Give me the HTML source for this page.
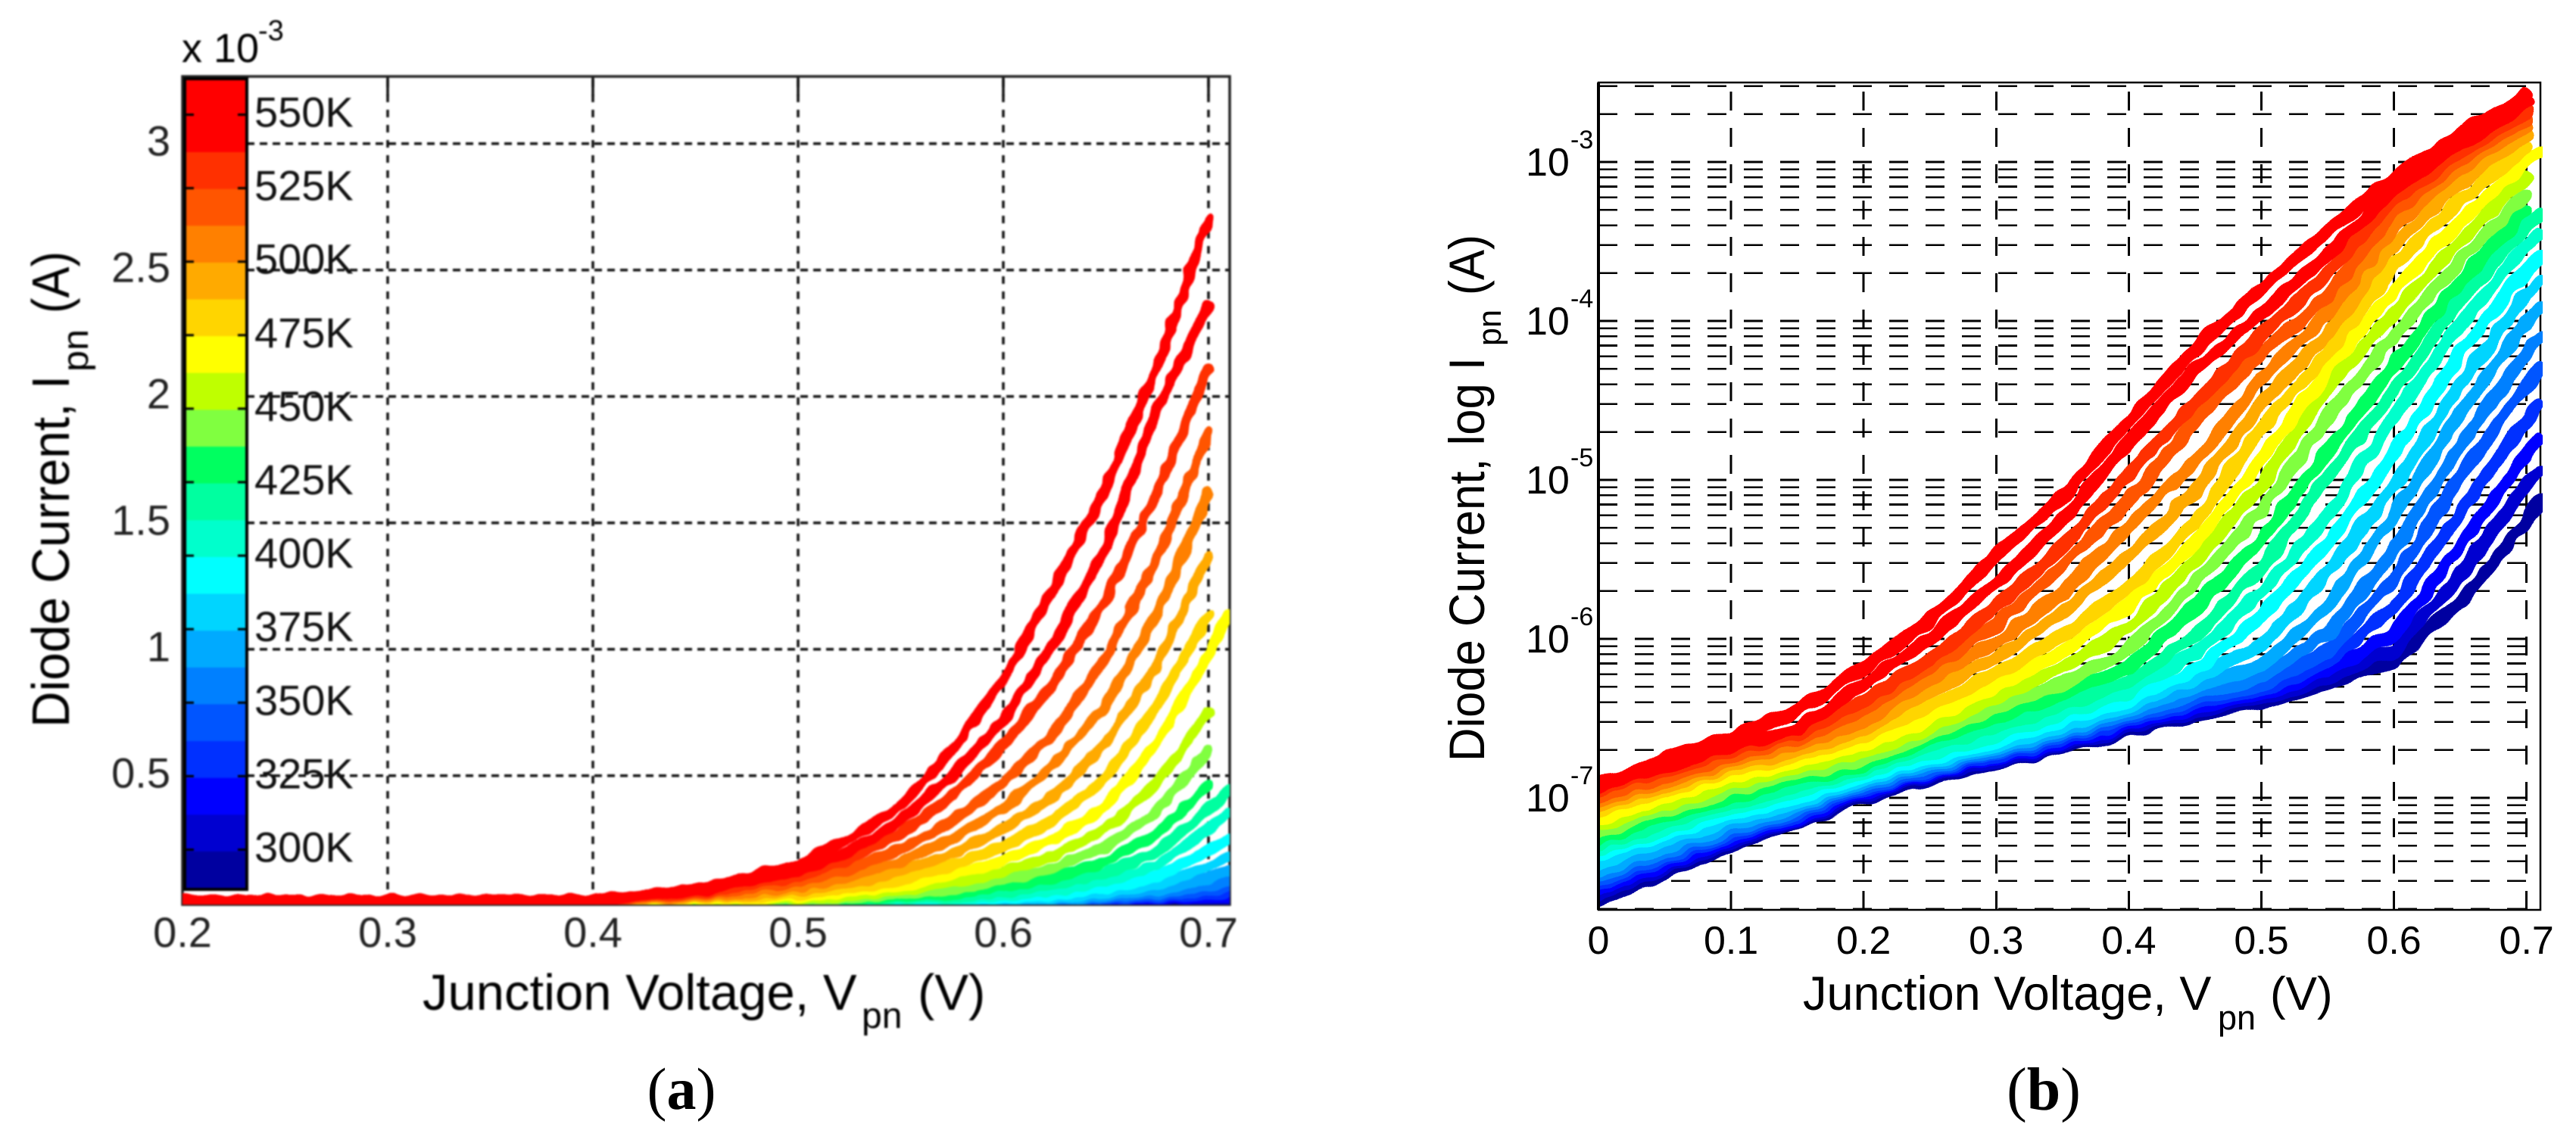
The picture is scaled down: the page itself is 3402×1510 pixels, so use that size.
<!DOCTYPE html>
<html lang="en">
<head>
<meta charset="utf-8">
<title>Diode current versus junction voltage</title>
<style>
html,body{margin:0;padding:0;background:#fff;}
svg{display:block;}
text{font-family:"Liberation Sans",Arial,sans-serif;fill:#000;}
.cap{font-family:"Liberation Serif","Times New Roman",serif;}
</style>
</head>
<body>
<svg id="figure" xmlns="http://www.w3.org/2000/svg" width="3402" height="1510" viewBox="0 0 3402 1510">
  <defs>
    <filter id="soft-a" filterUnits="userSpaceOnUse" x="0" y="0" width="1700" height="1510" color-interpolation-filters="sRGB">
      <feGaussianBlur stdDeviation="1.1"/>
    </filter>
    <filter id="rough-a" filterUnits="userSpaceOnUse" x="200" y="80" width="1460" height="1140" color-interpolation-filters="sRGB">
      <feTurbulence type="fractalNoise" baseFrequency="0.055" numOctaves="1" seed="4" result="n"/>
      <feDisplacementMap in="SourceGraphic" in2="n" scale="11" xChannelSelector="R" yChannelSelector="G"/>
    </filter>
    <filter id="rough-b" filterUnits="userSpaceOnUse" x="2080" y="90" width="1300" height="1140" color-interpolation-filters="sRGB">
      <feTurbulence type="fractalNoise" baseFrequency="0.04" numOctaves="1" seed="9" result="n"/>
      <feDisplacementMap in="SourceGraphic" in2="n" scale="14" xChannelSelector="R" yChannelSelector="G"/>
    </filter>
    <clipPath id="clip-a"><rect x="241" y="101" width="1383" height="1094"/></clipPath>
    <clipPath id="clip-b"><rect x="2113" y="109" width="1245" height="1093"/></clipPath>
  </defs>

  <g id="panel-a" filter="url(#soft-a)">
    <g id="grid-a"></g>
    <rect x="241" y="101" width="1383" height="1094" fill="none" stroke="#222" stroke-width="3.5"/>
    <g clip-path="url(#clip-a)"><g id="curves-a" filter="url(#rough-a)"></g></g>
    <g id="colorbar"></g>
    <g id="labels-a"></g>
    <text x="240" y="82" font-size="54" fill="#222">x 10</text>
    <text x="341" y="53" font-size="38" fill="#222">-3</text>
    <text x="558" y="1334" font-size="67" fill="#111">Junction Voltage, V</text>
    <text x="1138" y="1358" font-size="48" fill="#111">pn</text>
    <text x="1212" y="1334" font-size="67" fill="#111">(V)</text>
    <text transform="translate(91,961) rotate(-90)" font-size="70" textLength="465" lengthAdjust="spacingAndGlyphs" fill="#111">Diode Current, I</text>
    <text transform="translate(116,491) rotate(-90)" font-size="48" textLength="56" lengthAdjust="spacingAndGlyphs" fill="#111">pn</text>
    <text transform="translate(91,414) rotate(-90)" font-size="70" textLength="82" lengthAdjust="spacingAndGlyphs" fill="#111">(A)</text>
  </g>
  <text class="cap" x="900" y="1465" font-size="78" text-anchor="middle">(<tspan font-weight="bold">a</tspan>)</text>

  <g id="panel-b">
    <g id="grid-b" shape-rendering="crispEdges"></g>
    <rect x="2111" y="109" width="1244" height="1093" fill="none" stroke="#000" stroke-width="2.5"/>
    <line x1="2111" y1="109" x2="2111" y2="1202" stroke="#000" stroke-width="4"/>
    <g clip-path="url(#clip-b)"><g id="curves-b" filter="url(#rough-b)"></g></g>
    <g id="labels-b"></g>
    <text x="2381" y="1334" font-size="63">Junction Voltage, V</text>
    <text x="2929" y="1360" font-size="45">pn</text>
    <text x="2998" y="1334" font-size="62">(V)</text>
    <text transform="translate(1960,1006) rotate(-90)" font-size="66" textLength="534" lengthAdjust="spacingAndGlyphs">Diode Current, log I</text>
    <text transform="translate(1982,457) rotate(-90)" font-size="44" textLength="48" lengthAdjust="spacingAndGlyphs">pn</text>
    <text transform="translate(1960,390) rotate(-90)" font-size="66" textLength="80" lengthAdjust="spacingAndGlyphs">(A)</text>
  </g>
  <text class="cap" x="2699" y="1466" font-size="80" text-anchor="middle">(<tspan font-weight="bold">b</tspan>)</text>
</svg>

<script>
// ---- Shared palette, coolest curve first ----
const palette = ['#0000a0','#0000d0','#0000ff','#0030ff','#0055ff','#0080ff','#00aaff','#00d5ff','#00ffff','#00ffcc','#00ffa0','#00ff60','#80ff40','#bfff00','#ffff00','#ffd500','#ffaa00','#ff8000','#ff5500','#ff3000','#ff0000','#ff0000'];
const temperatureLabels = [550,525,500,475,450,425,400,375,350,325,300];

// ---- Panel (a): linear current in units of 1e-3 A ----
const voltagesA = [0.2,0.3,0.4,0.45,0.5,0.525,0.55,0.575,0.6,0.625,0.65,0.675,0.7,0.71];
const xTicksA = [0.2,0.3,0.4,0.5,0.6,0.7];
const yTicksA = [0.5,1,1.5,2,2.5,3];
const hotCurveA1 = [0.008,0.008,0.01,0.05,0.15,0.25,0.38,0.6,0.88,1.25,1.64,2.12,2.7];
const hotCurveA2 = [0,0,0.006,0.04,0.12,0.2,0.32,0.5,0.72,1.03,1.4,1.95,2.36];
const hotCurveA3 = [0,0,0.005,0.03,0.1,0.17,0.27,0.42,0.62,0.87,1.2,1.62,2.11];
const hotCurveA4 = [0,0,0.004,0.025,0.08,0.13,0.21,0.32,0.47,0.67,0.97,1.36,1.86];
const hotCurveA5 = [0,0,0.003,0.018,0.06,0.1,0.16,0.25,0.37,0.55,0.78,1.14,1.62];
const hotCurveA6 = [0,0,0.002,0.013,0.045,0.075,0.12,0.19,0.29,0.42,0.63,0.94,1.37];
const hotCurveA7 = [0,0,0.002,0.01,0.03,0.055,0.09,0.145,0.22,0.33,0.49,0.78,1.137];
const midCurveA8 = [0,0,0.001,0.006,0.02,0.04,0.065,0.105,0.165,0.25,0.38,0.63,0.98,1.14];
const midCurveA9 = [0,0,0.001,0.004,0.013,0.025,0.045,0.075,0.12,0.185,0.29,0.47,0.75];
const midCurveA10 = [0,0,0.001,0.003,0.008,0.016,0.03,0.05,0.085,0.135,0.22,0.36,0.6];
const midCurveA11 = [0,0,0,0.002,0.005,0.01,0.02,0.035,0.06,0.095,0.16,0.27,0.465];
const midCurveA12 = [0,0,0,0.001,0.003,0.006,0.013,0.023,0.04,0.068,0.115,0.2,0.365,0.445];
const midCurveA13 = [0,0,0,0.001,0.002,0.004,0.008,0.015,0.027,0.046,0.08,0.145,0.29,0.355];
const midCurveA14 = [0,0,0,0,0.001,0.002,0.005,0.009,0.017,0.03,0.055,0.1,0.205,0.25];
const coolCurveA15 = [0,0,0,0,0.0006,0.0012,0.003,0.006,0.011,0.02,0.036,0.068,0.14,0.18];
const coolCurveA16 = [0,0,0,0,0.0004,0.0008,0.002,0.004,0.007,0.013,0.024,0.045,0.095,0.125];
const coolCurveA17 = [0,0,0,0,0.0003,0.0006,0.0012,0.0025,0.005,0.009,0.016,0.03,0.065,0.085];
const coolCurveA18 = [0,0,0,0,0.0002,0.0004,0.0008,0.0016,0.0032,0.006,0.011,0.02,0.043,0.06];
const coolCurveA19 = [0,0,0,0,0.0001,0.0002,0.0005,0.001,0.002,0.004,0.007,0.013,0.028,0.04];
const coolCurveA20 = [0,0,0,0,0,0.0001,0.0003,0.0006,0.0012,0.0025,0.0045,0.008,0.018,0.026];
const coolCurveA21 = [0,0,0,0,0,0.0001,0.0002,0.0004,0.0008,0.0015,0.003,0.005,0.011,0.016];
const coolCurveA22 = [0,0,0,0,0,0,0.0001,0.0002,0.0005,0.001,0.002,0.003,0.007,0.01];
const seriesA = [coolCurveA22,coolCurveA21,coolCurveA20,coolCurveA19,coolCurveA18,coolCurveA17,coolCurveA16,coolCurveA15,midCurveA14,midCurveA13,midCurveA12,midCurveA11,midCurveA10,midCurveA9,midCurveA8,hotCurveA7,hotCurveA6,hotCurveA5,hotCurveA4,hotCurveA3,hotCurveA2,hotCurveA1];

// ---- Panel (b): log10 of current in A ----
const voltagesB = [0,0.05,0.1,0.15,0.2,0.25,0.3,0.35,0.4,0.45,0.5,0.55,0.6,0.65,0.7,0.71];
const xTicksB = [0,0.1,0.2,0.3,0.4,0.5,0.6,0.7];
const decadesB = [-3,-4,-5,-6,-7];
const logCurveB1 = [-6.91,-6.76,-6.62,-6.45,-6.18,-5.89,-5.47,-5.11,-4.63,-4.18,-3.79,-3.43,-3.1,-2.83,-2.58];
const logCurveB2 = [-6.93,-6.8,-6.67,-6.57,-6.28,-6,-5.65,-5.25,-4.76,-4.3,-3.96,-3.58,-3.17,-2.88,-2.63];
const logCurveB3 = [-6.95,-6.83,-6.7,-6.6,-6.39,-6.13,-5.8,-5.42,-4.96,-4.52,-4.09,-3.7,-3.24,-2.93,-2.69];
const logCurveB4 = [-6.99,-6.87,-6.74,-6.63,-6.45,-6.18,-5.91,-5.54,-5.13,-4.63,-4.2,-3.85,-3.3,-2.98,-2.73];
const logCurveB5 = [-7.02,-6.9,-6.77,-6.66,-6.52,-6.25,-6.02,-5.71,-5.29,-4.89,-4.36,-3.95,-3.4,-3.04,-2.77];
const logCurveB6 = [-7.05,-6.93,-6.8,-6.7,-6.57,-6.33,-6.12,-5.83,-5.48,-5.07,-4.52,-4.08,-3.52,-3.13,-2.83];
const logCurveB7 = [-7.08,-6.96,-6.83,-6.73,-6.62,-6.42,-6.22,-5.98,-5.68,-5.27,-4.67,-4.2,-3.65,-3.24,-2.91];
const logCurveB8 = [-7.13,-7,-6.87,-6.77,-6.67,-6.5,-6.3,-6.08,-5.78,-5.4,-4.87,-4.31,-3.8,-3.37,-3,-2.94];
const logCurveB9 = [-7.17,-7.04,-6.91,-6.81,-6.71,-6.56,-6.37,-6.18,-5.93,-5.51,-5.03,-4.42,-3.95,-3.49,-3.09];
const logCurveB10 = [-7.22,-7.08,-6.95,-6.85,-6.76,-6.6,-6.44,-6.28,-6.07,-5.65,-5.19,-4.6,-4.1,-3.62,-3.2];
const logCurveB11 = [-7.26,-7.12,-6.99,-6.89,-6.8,-6.64,-6.5,-6.35,-6.18,-5.8,-5.38,-4.82,-4.28,-3.75,-3.3];
const logCurveB12 = [-7.29,-7.16,-7.03,-6.93,-6.82,-6.68,-6.55,-6.42,-6.27,-5.98,-5.55,-4.98,-4.44,-3.87,-3.4,-3.33];
const logCurveB13 = [-7.32,-7.2,-7.07,-6.96,-6.84,-6.72,-6.6,-6.47,-6.33,-6.09,-5.71,-5.22,-4.6,-4.02,-3.52,-3.45];
const logCurveB14 = [-7.35,-7.23,-7.11,-7,-6.86,-6.75,-6.64,-6.51,-6.38,-6.2,-5.86,-5.4,-4.84,-4.2,-3.67,-3.6];
const logCurveB15 = [-7.41,-7.27,-7.14,-7.03,-6.88,-6.77,-6.67,-6.55,-6.42,-6.25,-6.04,-5.58,-5.04,-4.4,-3.82,-3.75];
const logCurveB16 = [-7.46,-7.31,-7.17,-7.05,-6.9,-6.79,-6.69,-6.58,-6.45,-6.3,-6.17,-5.8,-5.22,-4.58,-4,-3.92];
const logCurveB17 = [-7.49,-7.34,-7.2,-7.07,-6.92,-6.81,-6.71,-6.6,-6.48,-6.34,-6.24,-5.97,-5.44,-4.78,-4.2,-4.1];
const logCurveB18 = [-7.52,-7.37,-7.22,-7.09,-6.94,-6.83,-6.72,-6.62,-6.5,-6.38,-6.29,-6.08,-5.62,-4.98,-4.4,-4.3];
const logCurveB19 = [-7.55,-7.39,-7.24,-7.11,-6.955,-6.84,-6.74,-6.64,-6.52,-6.41,-6.32,-6.15,-5.8,-5.2,-4.62,-4.53];
const logCurveB20 = [-7.58,-7.42,-7.26,-7.13,-6.97,-6.85,-6.75,-6.66,-6.54,-6.44,-6.35,-6.2,-5.97,-5.42,-4.83,-4.74];
const logCurveB21 = [-7.61,-7.44,-7.28,-7.14,-6.985,-6.86,-6.77,-6.67,-6.56,-6.46,-6.38,-6.25,-6.07,-5.6,-5.03,-4.94];
const logCurveB22 = [-7.64,-7.47,-7.3,-7.15,-7,-6.88,-6.78,-6.68,-6.58,-6.48,-6.41,-6.28,-6.13,-5.77,-5.26,-5.13];
const seriesB = [logCurveB22,logCurveB21,logCurveB20,logCurveB19,logCurveB18,logCurveB17,logCurveB16,logCurveB15,logCurveB14,logCurveB13,logCurveB12,logCurveB11,logCurveB10,logCurveB9,logCurveB8,logCurveB7,logCurveB6,logCurveB5,logCurveB4,logCurveB3,logCurveB2,logCurveB1];

// ---- Axis functions ----
const xA = v => 241 + 2710 * (v - 0.2);
const yA = i => 1191.7 - 334 * i;
const xB = v => 2111 + 1751 * v;
const yB = l => 214 + (-3 - l) * 210;
const yTemp = t => 151.5 + (550 - t) / 25 * 97.1;

const NS = 'http://www.w3.org/2000/svg';
function make(tag, parent) {
  const node = document.createElementNS(NS, tag);
  parent.appendChild(node);
  return node;
}
function seg(node, x1, y1, x2, y2, color, width, dash) {
  node.setAttribute('x1', x1); node.setAttribute('y1', y1);
  node.setAttribute('x2', x2); node.setAttribute('y2', y2);
  node.setAttribute('stroke', color); node.setAttribute('stroke-width', width);
  if (dash) node.setAttribute('stroke-dasharray', dash);
}
function label(node, x, y, size, anchor, color, content) {
  node.setAttribute('x', x); node.setAttribute('y', y);
  node.setAttribute('font-size', size); node.setAttribute('text-anchor', anchor);
  node.style.fill = color;
  node.textContent = content;
}
function curve(node, xs, ys, xf, yf, color, width) {
  node.setAttribute('points', ys.map((v, i) => xf(xs[i]).toFixed(1) + ',' + yf(v).toFixed(1)).join(' '));
  node.setAttribute('fill', 'none');
  node.setAttribute('stroke', color);
  node.setAttribute('stroke-width', width);
  node.setAttribute('stroke-linejoin', 'round');
  node.setAttribute('stroke-linecap', 'round');
}

// ---- Panel (a) grid ----
const gridA = document.getElementById('grid-a');
xTicksA.slice(1).forEach(v => {
  const el = make('line', gridA);
  
  
  seg(el, xA(v), 1195, xA(v), 101, '#111', 3.5, '10 10');
  const tk = make('line', gridA);
  
  
  seg(tk, xA(v), 101, xA(v), 127, '#111', 3.5);
});
yTicksA.forEach(v => {
  const el = make('line', gridA);
  
  
  seg(el, 326, yA(v), 1624, yA(v), '#111', 3.5, '10 7');
});

// ---- Panel (a) curves ----
const curvesA = document.getElementById('curves-a');
seriesA.forEach((values, i) => {
  const el = make('polyline', curvesA);
  
  
  curve(el, voltagesA, values, xA, yA, palette[i], 14);
});

// ---- Colorbar ----
const bar = document.getElementById('colorbar');
palette.forEach((c, i) => {
  const el = make('rect', bar);
  
  
  const top = 1173 - (i + 1) * 48.63;
  el.setAttribute('x', 243);
  el.setAttribute('y', top.toFixed(1));
  el.setAttribute('width', 83);
  el.setAttribute('height', 49.2);
  el.setAttribute('fill', c);
});
const barFrame = make('rect', bar);


barFrame.setAttribute('x', 244);
barFrame.setAttribute('y', 104);
barFrame.setAttribute('width', 82);
barFrame.setAttribute('height', 1071);
barFrame.setAttribute('fill', 'none');
barFrame.setAttribute('stroke', '#000');
barFrame.setAttribute('stroke-width', 4);
temperatureLabels.forEach(t => {
  const l = make('line', bar);
  
  
  seg(l, 244, yTemp(t), 256, yTemp(t), '#000', 3);
  const r = make('line', bar);
  
  
  seg(r, 314, yTemp(t), 326, yTemp(t), '#000', 3);
  const tx = make('text', bar);
  
  
  label(tx, 336, yTemp(t) + 16, 56, 'start', '#111', t + 'K');
});

// ---- Panel (a) tick labels ----
const labelsA = document.getElementById('labels-a');
xTicksA.forEach(v => {
  const el = make('text', labelsA);
  
  
  label(el, xA(v), 1251, 56, 'middle', '#222', v.toFixed(1));
});
yTicksA.forEach(v => {
  const el = make('text', labelsA);
  
  
  label(el, 225, yA(v) + 16, 56, 'end', '#222', String(v));
});

// ---- Panel (b) grid ----
const gridB = document.getElementById('grid-b');
[-8,-7,-6,-5,-4,-3].forEach(e => {
  [1,2,3,4,5,6,7,8,9].forEach(m => {
    const lg = e + Math.log10(m);
    if (lg < -7.71 || lg > -2.5) return;
    const el = make('line', gridB);
    
    
    seg(el, 2111, yB(lg), 3355, yB(lg), '#000', 2.6, '25 23');
  });
});
xTicksB.slice(1).forEach(v => {
  const el = make('line', gridB);
  
  
  seg(el, xB(v), 1202, xB(v), 109, '#000', 3, '25 23');
});

// ---- Panel (b) curves ----
const curvesB = document.getElementById('curves-b');
seriesB.forEach((values, i) => {
  const el = make('polyline', curvesB);
  
  
  curve(el, voltagesB, values, xB, yB, palette[i], 17);
});

// ---- Panel (b) tick labels ----
const labelsB = document.getElementById('labels-b');
xTicksB.forEach(v => {
  const el = make('text', labelsB);
  
  
  label(el, xB(v), 1260, 52, 'middle', '#000', v === 0 ? '0' : v.toFixed(1));
});
decadesB.forEach(d => {
  const base = make('text', labelsB);
  
  
  label(base, 2015, yB(d) + 18, 52, 'start', '#000', '10');
  const exp = make('text', labelsB);
  
  
  label(exp, 2074, yB(d) - 18, 34, 'start', '#000', String(d));
});
</script>
</body>
</html>
